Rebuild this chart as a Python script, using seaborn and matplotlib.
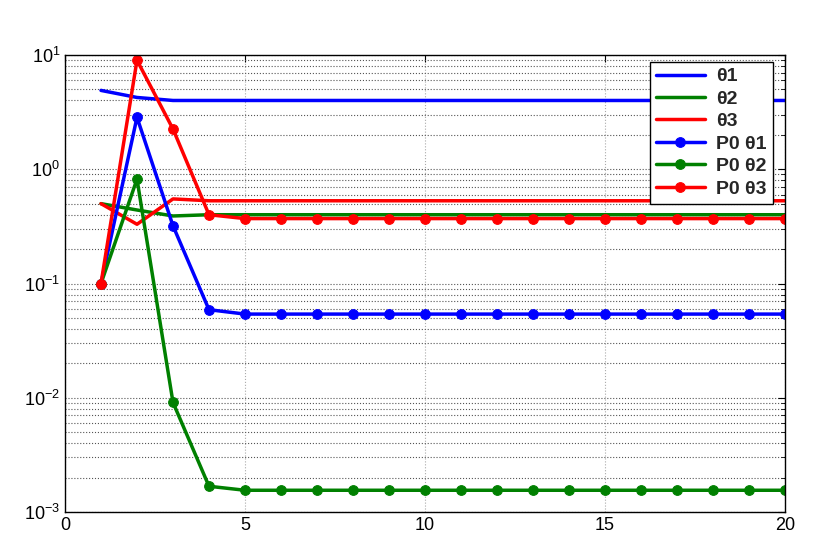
import numpy as np
import pandas as pd
import matplotlib
matplotlib.use('Agg')
import matplotlib.pyplot as plt
import matplotlib.ticker as mticker
from matplotlib.font_manager import FontProperties
import seaborn as sns

# iterations
x = list(range(1, 21))

# valeurs
theta1 = [4.9, 4.25, 4.0] + [4.0] * 17
theta2 = [0.5, 0.44, 0.39] + [0.40] * 17
theta3 = [0.5, 0.33, 0.55] + [0.53] * 17
p0_theta1 = [0.1, 2.85, 0.32, 0.059] + [0.054] * 16
p0_theta2 = [0.1, 0.82, 0.0091, 0.00168] + [0.00155] * 16
p0_theta3 = [0.1, 9.0, 2.25, 0.40] + [0.37] * 16

labels = ['θ1', 'θ2', 'θ3', 'P0 θ1', 'P0 θ2', 'P0 θ3']
series = [theta1, theta2, theta3, p0_theta1, p0_theta2, p0_theta3]
colors = ['#0000ff', '#008000', '#ff0000', '#0000ff', '#008000', '#ff0000']
markers = [None, None, None, 'o', 'o', 'o']

sns.set_style('white')
plt.rcParams['font.family'] = ['Liberation Sans', 'DejaVu Sans']

fig = plt.figure(figsize=(8.3, 5.54), dpi=100)
ax = fig.add_axes([0.0783, 0.0758, 0.8675, 0.8249])

for lab, vals, c, m in zip(labels, series, colors, markers):
    df = pd.DataFrame({'x': x, 'y': vals})
    sns.lineplot(data=df, x='x', y='y', ax=ax, color=c, linewidth=2.5,
                 marker=m, markersize=7, markeredgecolor=c, label=lab)

ax.set_yscale('log')
ax.set_xlim(0, 20)
ax.set_ylim(1e-3, 10)
ax.set_xlabel('')
ax.set_ylabel('')
ax.set_xticks([0, 5, 10, 15, 20])
ax.yaxis.set_major_locator(mticker.LogLocator(base=10, numticks=10))
ax.yaxis.set_minor_locator(mticker.LogLocator(base=10, subs=np.arange(2, 10), numticks=20))
ax.yaxis.set_minor_formatter(mticker.NullFormatter())

ax.grid(True, axis='y', which='both', linestyle=':', color='#555555', linewidth=0.8)
ax.grid(True, axis='x', which='major', linestyle=':', color='#aaaaaa', linewidth=0.8)

ax.tick_params(which='both', direction='in', top=True, right=True, labelsize=13,
               color='black', labelcolor='black')
ax.tick_params(which='major', length=5)
ax.tick_params(which='minor', length=3)
for s in ax.spines.values():
    s.set_color('black')
    s.set_linewidth(1)
    s.set_visible(True)

legfont = FontProperties(family='Liberation Sans', weight='bold', size=14)
leg = ax.legend(loc='upper right', bbox_to_anchor=(0.983, 0.985), borderaxespad=0,
                fancybox=False, framealpha=1, edgecolor='black', prop=legfont,
                handlelength=2.5, borderpad=0.3, labelspacing=0.25, handletextpad=0.6)
leg.get_frame().set_linewidth(1)

plt.savefig('out.png', dpi=100)
